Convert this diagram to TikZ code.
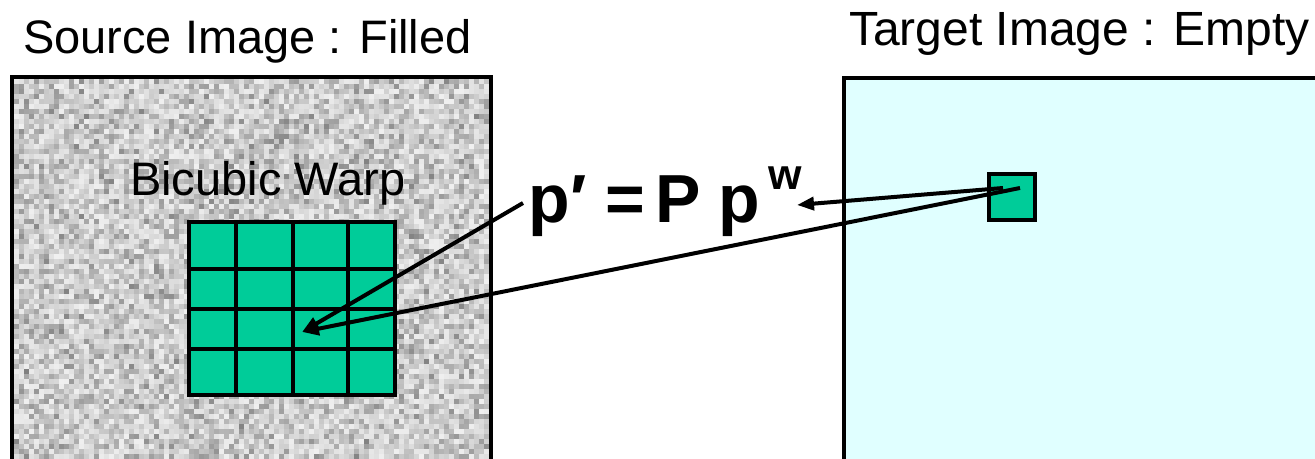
\documentclass[tikz,border=0pt]{standalone}
\usepackage{fontspec}
\setmainfont{Liberation Sans}
\usetikzlibrary{arrows.meta}
\definecolor{cellgreen}{RGB}{0,204,153}
\definecolor{tgtcyan}{RGB}{224,255,255}
\tikzset{
  titletext/.style={anchor=base west, inner sep=0pt, font=\fontsize{47}{50}\selectfont},
  formulatext/.style={anchor=base west, inner sep=0pt, font=\fontsize{68}{72}\selectfont\bfseries},
  conn/.style={line width=4pt, -{Triangle[length=17pt,width=13pt]}},
  boxline/.style={line width=4pt},
  cellbox/.style={draw, fill=cellgreen, line width=4pt, inner sep=0pt},
}
\begin{document}
\begin{tikzpicture}[x=1pt,y=-1pt]
\useasboundingbox (0,0) rectangle (1315,458);
\begin{scope}
\clip (0,0) rectangle (1315,458);
% noise texture of the source image
\pgfmathsetseed{7}
\foreach \i in {0,...,94}{
  \foreach \j in {0,...,75}{
    \pgfmathsetmacro\g{0.5+0.44*sqrt(rnd)}
    \definecolor{nz}{gray}{\g}
    \fill[nz] (14+5*\i,79+5*\j) rectangle ++(5,5);
  }}
\draw[boxline] (12,480) -- (12,77) -- (491,77) -- (491,480);
% target image
\filldraw[boxline, fill=tgtcyan] (844,480) -- (844,77.5) -- (1340,77.5) -- (1340,480) -- cycle;
% grid
\node[cellbox, minimum width=206pt, minimum height=173pt] (grid) at (292,308.5) {};
\draw[boxline] (236,222) -- (236,395);
\draw[boxline] (293,222) -- (293,395);
\draw[boxline] (348,222) -- (348,395);
\draw[boxline] (189,269) -- (395,269);
\draw[boxline] (189,309) -- (395,309);
\draw[boxline] (189,349) -- (395,349);
% target pixel
\node[cellbox, minimum size=46pt] (sq) at (1012,197) {};
\end{scope}
% texts
\node[titletext] (srct) at (23,53) {Source Image : Filled};
\node[titletext, font=\fontsize{48}{50}\selectfont] (tgtt) at (849,45) {Target Image : Empty};
\node[titletext] (bw) at (130,195) {Bicubic Warp};
\node[formulatext] (fp) at (528.5,222) {p′};
\node[formulatext] (feq) at (605,222) {=};
\node[formulatext] (fP) at (655,222) {P};
\node[formulatext] (fp2) at (718.5,222) {p};
\node[anchor=base west, inner sep=0pt, font=\fontsize{43}{46}\selectfont\bfseries] (fw) at (768,189) {w};
% connectors
\coordinate (gp) at (302,332);
\coordinate (s1) at (1003,188);
\coordinate (s2) at (1020,188);
\coordinate (pw) at (797,205);
\coordinate (pp) at (523,203);
\draw[conn] (s1) -- (pw);
\draw[conn] (s2) -- (gp);
\draw[conn] (pp) -- (gp);
\end{tikzpicture}
\end{document}
